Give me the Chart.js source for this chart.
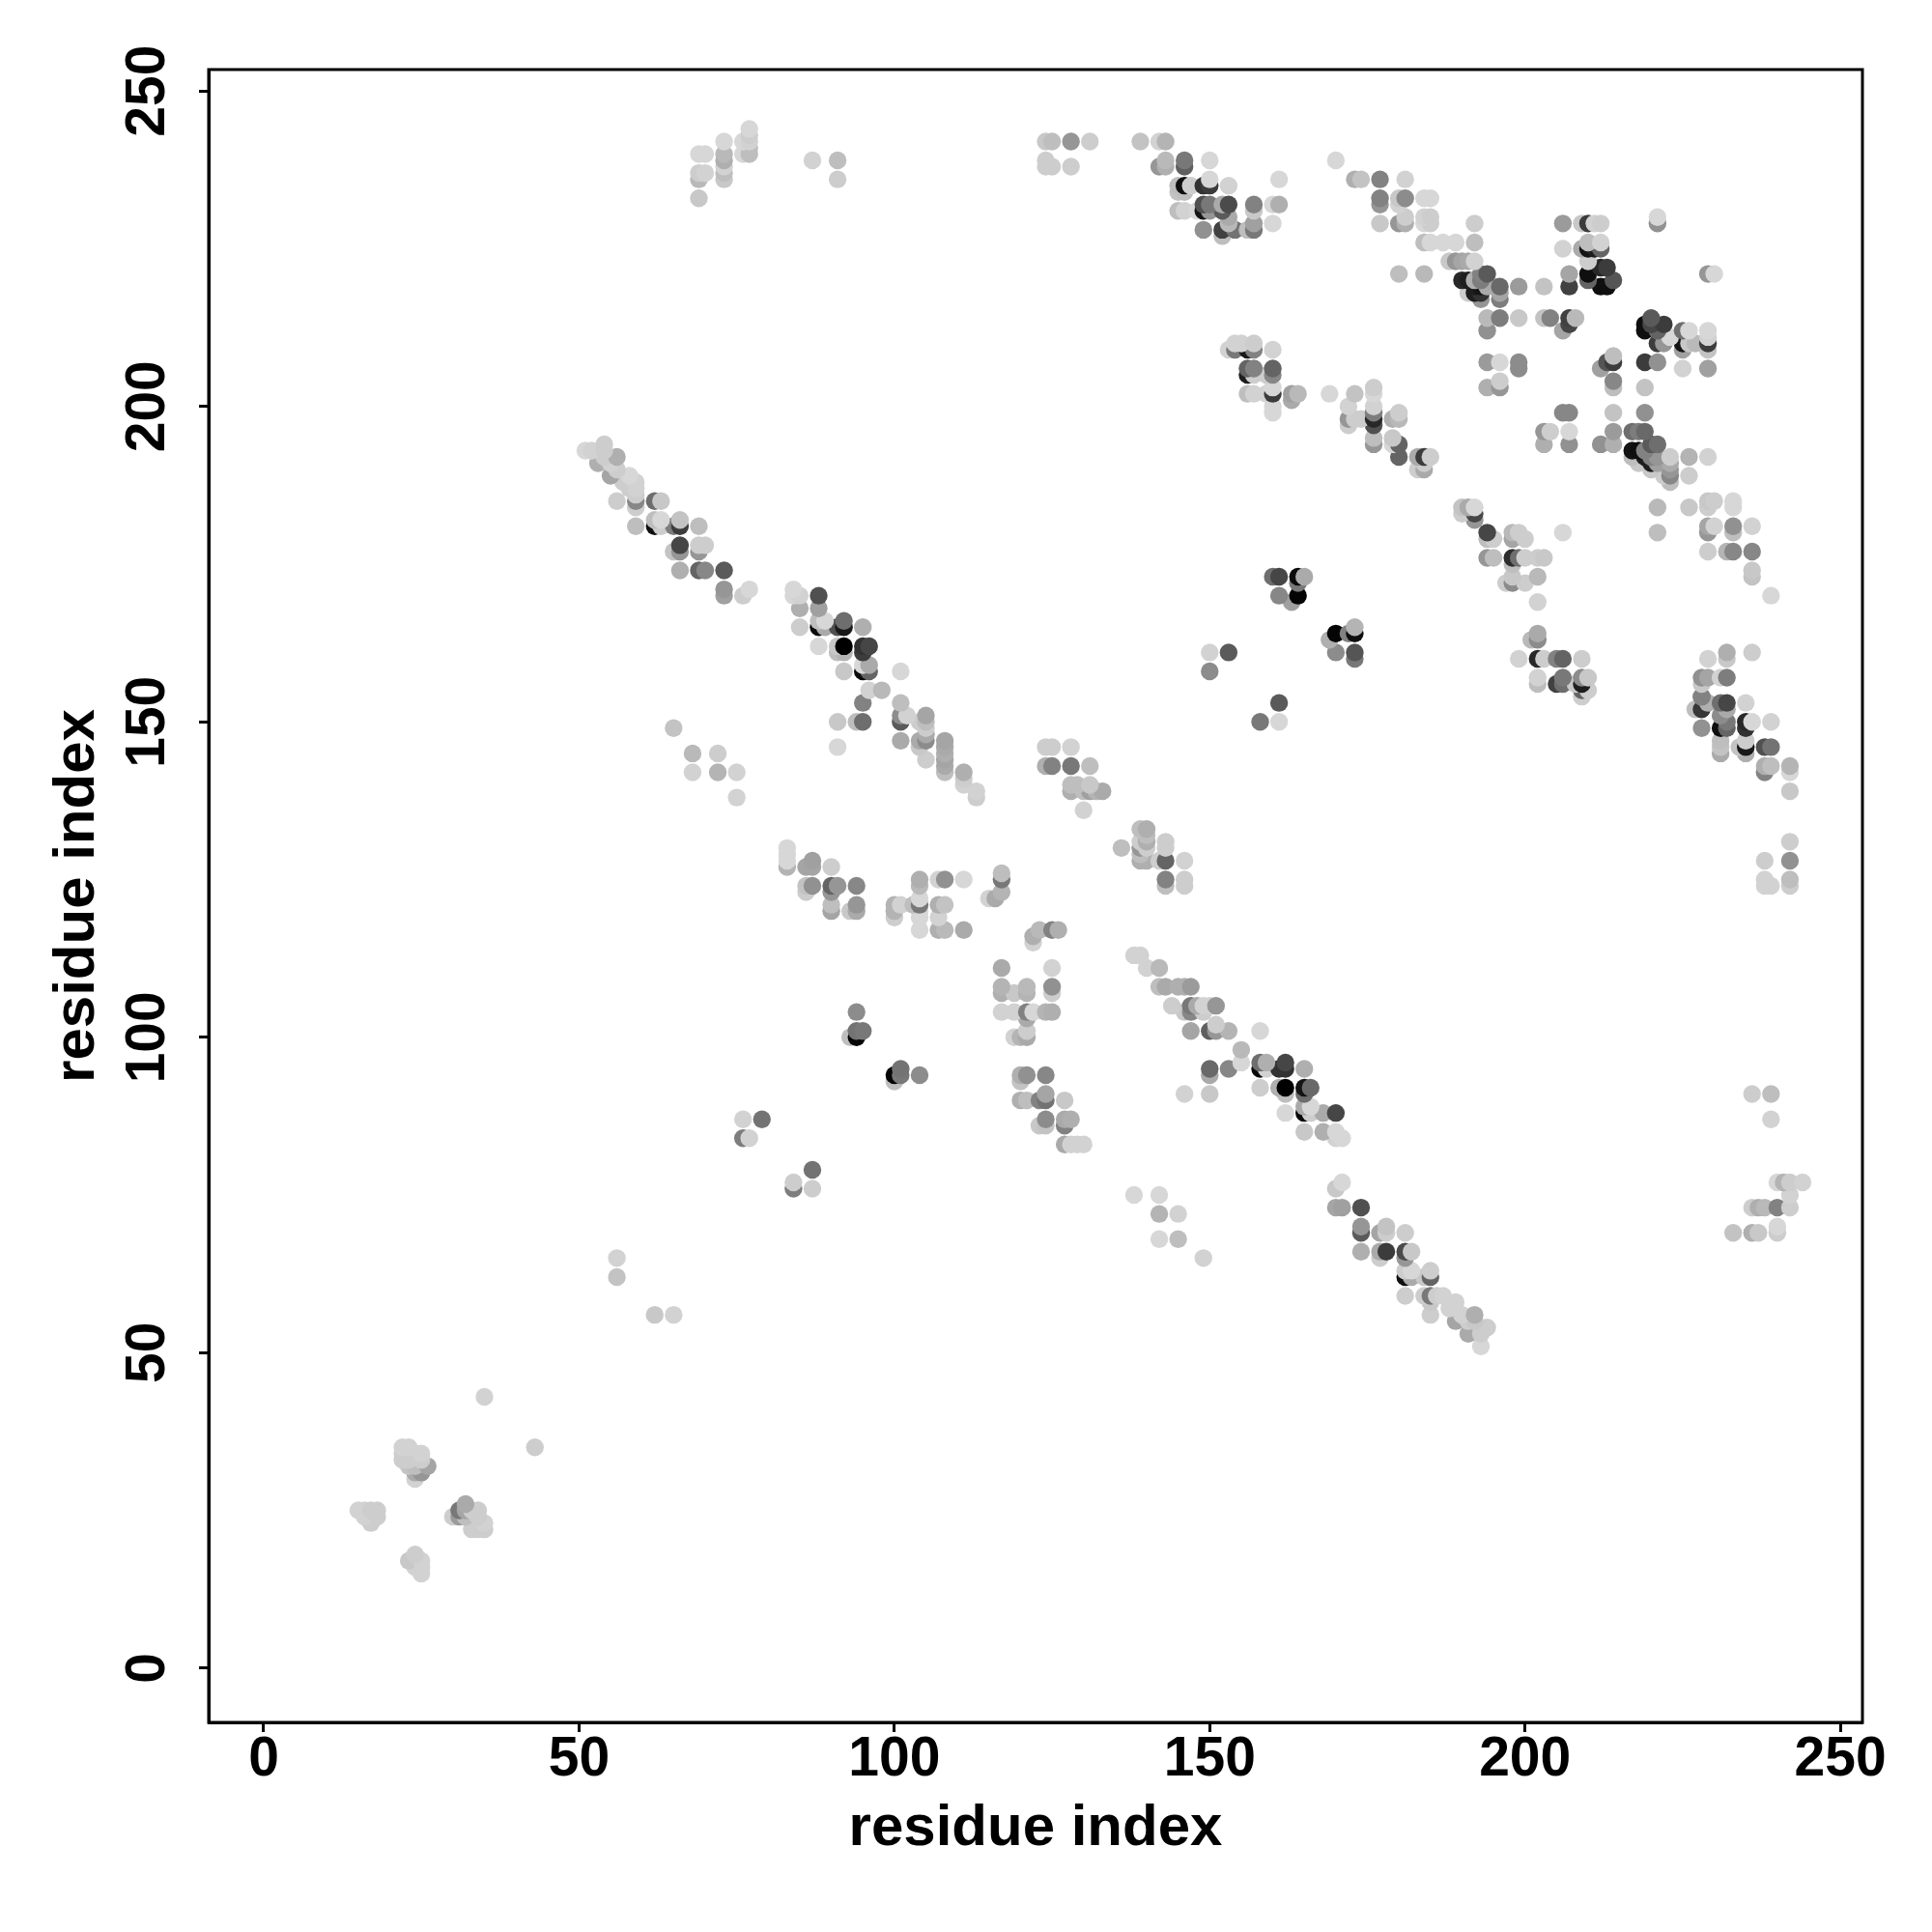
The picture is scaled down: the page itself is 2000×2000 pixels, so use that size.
<!DOCTYPE html>
<html><head><meta charset="utf-8">
<style>html,body{margin:0;padding:0;background:#fff}canvas{display:block}</style>
<script src="https://cdn.jsdelivr.net/npm/chart.js@4"></script>
</head><body><canvas id="c" width="2000" height="2000"></canvas>
<script>
const tickValues=[0,50,100,150,200,250];
const axisTitle="residue index";
// residue pairs by region: x index, y index, grey level of the mark
const cornerX=[15,16,17,18,17,18,16,22,23,22,22,23,24,25,24,25,25,24,26,24,23,30,31,31,32,32,32,33,34,34,33,33,34,35,35,23,24,24,25,25,25,35,43];
const cornerY=[25,25,25,25,23,24,24,35,35,34,33,33,34,34,32,33,31,31,32,30,32,24,25,24,26,25,24,23,25,24,25,22,22,23,22,17,18,16,17,16,15,43,35];
const cornerL=[210,210,205,205,205,205,210,210,210,205,205,205,205,210,190,205,150,170,165,210,195,205,120,155,170,165,190,205,205,205,205,205,205,210,205,200,205,210,210,210,210,210,205];

const lowX=[56,56,62,65,76,79,76,77,84,84,87,87,94,94,95,93,94,100,100,101,101,104];
const lowY=[65,62,56,56,87,87,84,84,76,77,79,76,104,101,101,100,100,94,93,95,94,94];
const lowL=[210,195,200,210,210,115,125,210,125,205,115,205,140,115,120,190,5,5,190,115,120,140];

const topLeftX=[69,69,69,70,69,70,73,73,73,73,73,73,76,76,77,77,77,77,77,87,91,91];
const topLeftY=[233,236,237,237,240,240,236,237,238,239,240,242,240,242,240,241,242,243,244,239,239,236];
const topLeftL=[200,185,205,210,215,215,200,190,210,175,185,215,215,215,190,190,210,205,215,210,190,205];

const topMidX=[124,125,128,131,124,124,125,128,139,142,143,142,143,143,146,146,150,150,150,149,153,146,147,145,145,146,161,157,153,152,150,149,160,161,145,146,148,149,150,152,153,157,157,157,149,152,152,153,154,156,160];
const topMidY=[242,242,242,242,239,238,238,238,242,242,242,238,239,238,239,238,239,236,235,235,235,235,235,235,234,234,236,232,232,232,232,232,232,232,231,231,231,231,231,231,230,231,229,228,228,228,227,229,228,228,229];
const topMidL=[200,190,150,205,205,205,205,205,195,210,180,150,185,175,120,95,215,215,60,50,210,15,205,190,195,190,215,130,75,170,120,80,215,175,190,210,215,20,150,90,170,200,160,120,145,65,190,185,115,190,215];

const topBandX=[170,173,174,177,181,177,177,180,181,180,184,185,177,180,181,181,184,185,184,185,184,185,187,189,192,192,180,184];
const topBandY=[239,236,236,236,236,233,232,233,233,232,233,233,229,229,230,229,230,230,229,229,226,226,226,226,226,229,221,221];
const topBandL=[215,175,195,130,210,130,150,200,140,210,215,215,200,150,205,175,210,205,215,205,190,215,215,215,190,205,190,185];

const helixA_X=[188,189,190,191,192,190,191,192,193,194,193,192,193,194,192,193,191,193,195,196,196,196,199,203,194,196,199,194,203,204,207,207,208,206,194,196,199,199,194,196,196];
const helixA_Y=[223,223,223,223,223,220,220,220,221,221,220,219,219,219,218,218,218,217,219,219,218,217,219,219,214,214,214,212,214,214,214,213,214,212,207,207,207,206,203,203,204];
const helixA_L=[200,150,165,170,210,40,30,175,130,90,125,30,20,170,30,50,205,150,170,105,165,125,155,195,185,125,200,145,195,130,65,70,185,165,155,215,140,140,175,150,205];

const helixB_X=[206,206,207,207,209,210,211,212,209,210,211,212,212,210,210,210,210,213,212,214,212,213,221,221,229,230];
const helixB_Y=[229,225,221,219,229,229,229,229,225,225,225,226,225,226,223,221,220,222,222,220,219,219,229,230,221,221];
const helixB_L=[155,210,165,65,200,60,210,205,170,20,30,210,100,190,205,15,100,60,40,85,15,15,145,215,150,215];

const darkX=[219,219,220,220,222,221,221,222,223,225,225,226,226,225,229,229,229,229,227,219,221,225,229,212,213,214,214,214,214,219];
const darkY=[213,212,214,213,213,212,210,210,211,210,212,212,210,209,212,210,211,209,210,207,207,206,206,206,207,207,208,204,203,203];
const darkL=[15,15,90,70,60,100,60,150,215,20,110,215,200,160,215,60,210,195,185,60,145,210,160,160,85,60,190,135,190,195];

const sheetX=[206,207,214,219,203,204,207,203,207,214,214,212,217,218,219,220,221,217,218,219,219,220,220,221,221,217,218,220,223,223,223,223,223,222,226,229,221,221,226,226,229,230,229,233,233,229,229,230,233,233,236,229,232,233,236,236,236,239];
const sheetY=[199,199,199,199,196,196,196,194,194,196,194,194,196,196,196,194,194,193,193,193,192,192,191,192,191,192,191,190,192,191,190,189,188,189,192,192,184,180,189,184,185,185,184,185,184,181,180,181,181,180,181,177,177,177,177,174,173,170];
const sheetL=[135,135,195,145,150,205,215,175,145,155,175,145,110,125,105,90,110,20,15,130,30,130,30,150,160,190,200,200,205,170,150,135,190,205,180,210,185,190,205,200,200,205,205,215,215,165,150,210,145,190,210,205,180,135,135,200,195,215];

const midTopX=[153,154,154,156,155,157,157,160,156,157,156,157,160,160,159,156,157,159,160,160,160,160,163,163,164,169,173,172,172,172,173,174];
const midTopY=[209,210,209,209,210,210,209,209,206,206,205,205,206,205,205,202,202,202,203,202,199,200,202,201,202,202,202,200,198,197,198,198];
const midTopL=[210,210,120,25,210,205,130,210,100,130,30,205,100,135,205,190,210,210,215,60,215,215,160,170,185,215,195,210,150,205,205,205];

const midRightX=[176,176,176,176,176,176,176,176,179,180,179,180,180,180,179,184,183,184,185,184,183,184];
const midRightY=[203,202,200,199,198,197,195,194,195,198,198,199,194,192,194,192,192,192,192,190,190,191];
const midRightL=[205,215,210,125,40,80,190,150,200,185,175,205,100,100,215,170,170,60,205,170,205,205];

const stripX=[192,191,190,190,192,192,194,195,194,198,199,198,206,200,194,195,198,199,200,202,203,198,198,198,197,200,202,202];
const stripY=[184,184,184,183,183,182,180,179,179,180,180,179,180,179,176,176,176,176,176,176,176,175,173,172,172,172,173,169];
const stripL=[215,170,195,205,70,150,70,205,190,185,205,165,215,205,150,190,45,110,205,205,200,190,200,140,205,205,185,210];

const lowerRowX=[202,202,201,199,202,203,205,206,209,202,202,205,206,206,208,209,210,209,209,210,209];
const lowerRowY=[164,163,163,160,160,160,160,160,160,157,156,156,157,156,156,157,157,156,155,155,154];
const lowerRowL=[170,140,185,210,40,205,130,100,205,210,190,65,120,110,200,140,200,30,100,205,205];

const rightX=[232,232,229,236,228,229,232,231,228,228,227,229,231,232,232,231,235,228,231,232,232,235,235,236,239,231,231,231,234,235,235,235,238,239,238,238,239,242,242,242];
const rightY=[161,160,160,161,157,157,157,157,156,154,152,153,153,153,152,151,153,149,149,150,149,150,149,150,150,147,146,145,146,147,146,145,146,146,143,142,143,143,142,139];
const rightL=[175,200,210,205,145,165,125,210,200,130,190,175,110,70,170,140,210,145,15,120,100,40,50,215,210,190,195,170,195,205,25,175,80,115,175,130,190,180,215,200];
const farRightX=[228,228,242,242,238,238,238,239,242,242,236,239,239];
const farRightY=[152,154,131,128,128,125,124,124,125,124,91,91,87];
const farRightL=[55,130,205,145,205,210,210,210,190,205,205,190,210];
const edgeX=[233,236,237,238,240,242,236,237,240,240,240,241,242,244,242];
const edgeY=[69,73,73,73,73,73,69,69,69,70,77,77,77,77,75];
const edgeL=[195,205,175,185,130,205,175,200,205,215,215,180,205,210,210];

const centreDotX=[160,161,164,165,164,164,163,161,170,169,172,173,173,170,173,173,150,150,153,158,161,161];
const centreDotY=[173,173,173,173,172,170,169,170,164,163,164,164,165,161,161,160,161,158,161,150,153,150];
const centreDotL=[110,70,10,170,120,5,160,135,5,175,130,15,180,140,85,120,210,140,90,120,90,215];

const diagAX=[51,52,53,54,54,54,55,56,55,56,57,58,59,58,59,56,59,59,59,62,63,59,62,62,63,63,65,66,66,69,65,66,66,69,70,69,66,69,70,73,73,73,76,77];
const diagAY=[193,193,191,194,193,192,191,192,189,190,188,189,188,187,187,185,185,186,184,185,185,181,181,182,182,181,181,181,182,181,177,178,177,178,178,177,174,174,174,174,171,170,170,171];
const diagAL=[215,210,175,205,205,205,210,175,165,205,205,215,210,205,210,205,135,205,205,110,200,190,15,190,215,205,125,60,195,190,195,70,150,205,205,150,175,100,135,90,150,160,205,215];

const diagBX=[84,84,85,85,88,88,85,88,88,89,89,91,92,92,95,88,91,92,92,91,95,96,95,92,95,96,96,95,101,96,98,95,91,94,95,91];
const diagBY=[171,170,170,168,170,168,165,166,165,166,165,165,166,165,165,162,162,162,161,161,162,162,161,158,158,159,158,159,158,155,155,153,150,150,150,146];
const diagBL=[215,215,210,175,80,160,205,190,10,215,170,80,110,25,175,215,200,0,180,190,50,70,60,200,10,170,100,215,215,210,185,130,200,190,110,215];

const diagCX=[101,101,101,102,101,105,105,105,104,105,105,104,104,105,108,108,108,108,108,108,111,111,111,113,113];
const diagCY=[153,151,150,151,147,151,150,149,150,148,147,147,146,144,147,146,145,144,143,142,142,141,140,139,138];
const diagCL=[190,140,90,210,170,165,190,205,205,170,140,170,200,205,165,170,175,165,170,190,175,205,210,210,205];

const sideDotX=[65,68,72,68,72,75,75];
const sideDotY=[149,145,145,142,142,142,138];
const sideDotL=[195,185,205,210,180,210,210];

const centreX=[124,125,128,124,125,128,131,128,128,129,130,131,132,133,131,130];
const centreY=[146,146,146,143,143,143,143,140,139,140,139,139,139,139,140,136];
const centreL=[205,205,210,175,130,120,190,190,175,190,190,160,180,170,200,210];

const loopAX=[83,83,83,83,86,87,87,90,86,86,87,90,91,90,94,90,90,93,94,94];
const loopAY=[130,129,128,127,127,128,127,127,124,123,124,124,124,123,124,121,120,120,121,120];
const loopAL=[215,215,215,180,165,160,165,205,195,205,145,100,150,150,135,190,165,200,150,170];

const loopBX=[100,100,100,101,104,104,104,104,103,104,104,104,107,108,111,107,108,107,107,108,111];
const loopBY=[121,120,119,121,125,124,122,121,121,120,119,117,125,125,125,121,121,119,117,117,117];
const loopBL=[180,180,205,210,175,185,215,120,190,215,215,215,210,145,215,175,195,210,175,185,170];

const loopCX=[117,117,117,116,115,122,122,123,125,126,117,125,125,125,117,117,119,121,121,117,119,121,122,124,125,121,119,120,121,121];
const loopCY=[126,125,123,122,122,116,115,117,117,117,111,111,108,107,108,107,107,108,107,104,104,104,104,104,104,103,100,100,101,100];
const loopCL=[190,120,180,170,210,175,210,185,130,175,170,210,145,205,180,175,200,185,180,210,210,130,215,180,175,170,210,180,205,170];

const loopDX=[120,121,124,120,120,121,123,124,124,127,123,124,124,127,128,127,127,128,129,130];
const loopDY=[94,94,94,93,90,90,90,91,90,90,86,87,86,87,87,86,83,83,83,83];
const loopDL=[175,145,135,195,175,190,130,165,115,200,200,140,195,170,175,130,170,210,210,210];

const upperMidX=[136,139,139,139,139,139,140,140,140,140,140,143,143,143,143,143,146,146,146,142];
const upperMidY=[130,133,131,130,129,128,133,132,131,130,128,131,130,128,125,124,128,125,124,128];
const upperMidL=[190,190,205,150,190,175,175,190,175,205,175,205,205,100,130,190,210,205,205,205];

const bandAX=[138,139,140,142,142,143,145,146,147,144,147,146,147,148,149,150,151,149,147,150,151,151,153,155,155,150,150,153,146,150];
const bandAY=[113,113,111,111,108,108,108,108,108,105,105,104,104,105,105,105,105,104,101,101,102,101,101,98,96,95,94,95,91,91];
const bandAL=[210,210,210,185,190,170,175,175,155,205,120,200,135,170,210,210,150,205,165,95,205,150,180,185,215,105,170,135,210,200];

const bandBX=[158,159,158,158,159,158,161,162,162,161,162,162,165,165,166,165,162,165,165,166,166,168,170,165,168,170,171,170];
const bandBY=[101,96,96,95,95,92,95,96,95,92,92,91,95,92,92,91,88,89,88,89,88,88,88,85,85,85,84,84];
const bandBL=[215,175,110,10,210,205,50,70,50,175,0,190,175,20,105,110,215,170,10,215,205,170,70,200,175,215,215,210];

const bandCX=[171,170,170,171,174,174,174,177,178,178,181,174,177,177,178,181,181,182,181,182,181,182,184,185,185];
const bandCY=[77,76,73,73,73,70,69,69,70,69,69,66,66,65,66,66,65,66,63,63,62,62,62,63,62];
const bandCL=[215,200,165,160,80,150,90,165,195,205,205,175,170,205,60,75,150,200,205,215,15,170,200,205,100];

const bandDX=[181,184,185,185,185,186,187,188,189,189,190,191,191,192,192,193,193,193,194];
const bandDY=[59,59,59,58,56,59,59,57,58,55,56,53,55,56,55,54,53,51,54];
const bandDL=[205,205,120,200,205,205,210,210,210,165,210,170,205,175,200,205,205,215,205];

const sparseX=[138,142,142,145,142,145,149];
const sparseY=[75,75,72,72,68,68,65];
const sparseL=[215,215,180,210,215,190,210];

const regions=[
 [cornerX,cornerY,cornerL],[lowX,lowY,lowL],[topLeftX,topLeftY,topLeftL],[topMidX,topMidY,topMidL],
 [topBandX,topBandY,topBandL],[helixA_X,helixA_Y,helixA_L],[helixB_X,helixB_Y,helixB_L],[darkX,darkY,darkL],
 [sheetX,sheetY,sheetL],[midTopX,midTopY,midTopL],[midRightX,midRightY,midRightL],[stripX,stripY,stripL],
 [lowerRowX,lowerRowY,lowerRowL],[rightX,rightY,rightL],[farRightX,farRightY,farRightL],[edgeX,edgeY,edgeL],
 [centreDotX,centreDotY,centreDotL],[diagAX,diagAY,diagAL],[diagBX,diagBY,diagBL],[diagCX,diagCY,diagCL],
 [sideDotX,sideDotY,sideDotL],[centreX,centreY,centreL],[loopAX,loopAY,loopAL],[loopBX,loopBY,loopBL],
 [loopCX,loopCY,loopCL],[loopDX,loopDY,loopDL],[upperMidX,upperMidY,upperMidL],[bandAX,bandAY,bandAL],
 [bandBX,bandBY,bandBL],[bandCX,bandCY,bandCL],[bandDX,bandDY,bandDL],[sparseX,sparseY,sparseL]
];
const points=[];
regions.forEach(([xs,ys,ls])=>xs.forEach((x,i)=>points.push({x,y:ys[i],level:ls[i]})));
points.sort((a,b)=>a.y-b.y||a.x-b.x);

const FONT='"Liberation Sans", Arial, sans-serif';
const frame={id:'frame',afterDraw(ch){const a=ch.chartArea,c=ch.ctx;c.save();c.strokeStyle='#000';c.lineWidth=3;c.strokeRect(a.left,a.top,a.right-a.left,a.bottom-a.top);c.restore();}};
const axis=(size,pos,lo,hi,pad,tpad)=>({
  type:'linear',position:pos,min:lo,max:hi,
  afterFit(s){if(pos==='left')s.width=size;else s.height=size;},
  grid:{drawOnChartArea:false,drawTicks:true,tickLength:10,tickWidth:3,tickColor:'#000',color:'#000'},
  border:{display:true,color:'#000',width:3},
  afterBuildTicks(s){s.ticks=tickValues.map(v=>({value:v}));},
  ticks:{includeBounds:false,color:'#000',font:{family:FONT,size:57,weight:'bold'},padding:pad,
    minRotation:pos==='left'?90:0,maxRotation:pos==='left'?90:0,autoSkip:false,align:'center',crossAlign:pos==='left'?'center':'near'},
  title:{display:true,text:axisTitle,color:'#000',font:{family:FONT,size:60,weight:'bold'},padding:tpad}
});
new Chart(document.getElementById('c'),{
  type:'scatter',
  data:{datasets:[{data:points,pointRadius:9.2,pointHoverRadius:9.2,pointBorderWidth:0,
    pointBackgroundColor:points.map(p=>`rgb(${p.level},${p.level},${p.level})`)}]},
  options:{responsive:false,animation:false,devicePixelRatio:1,
    layout:{padding:{top:72,right:72,left:0,bottom:0}},
    plugins:{legend:{display:false},tooltip:{enabled:false}},
    scales:{x:axis(217,'bottom',-8.73,253.5,-5,{top:0,bottom:71}),y:axis(216,'left',-8.6,253.4,4,{top:44,bottom:0})}
  },
  plugins:[frame]
});
</script></body></html>
